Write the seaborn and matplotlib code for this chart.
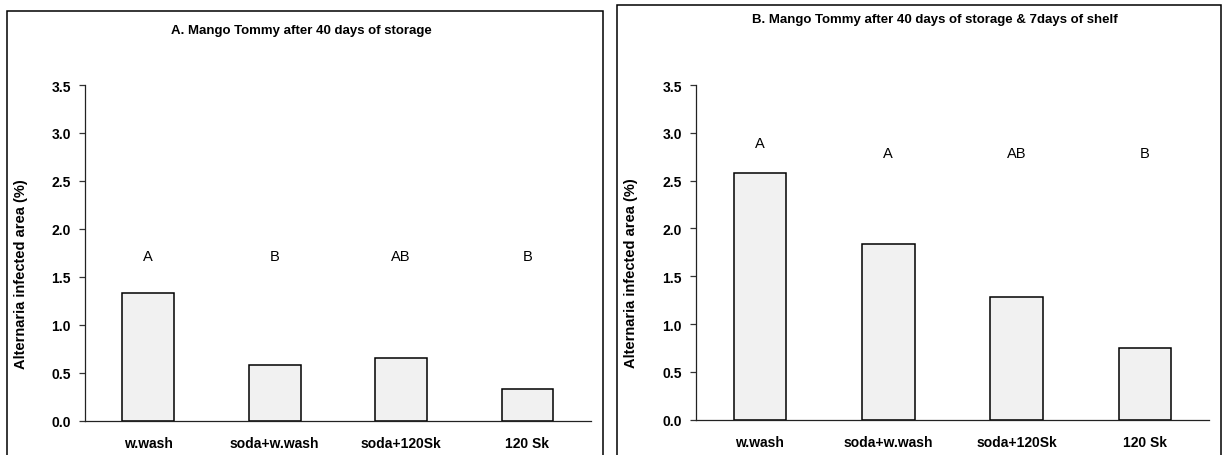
import matplotlib
matplotlib.use("Agg")
import matplotlib.pyplot as plt
from matplotlib.patches import Rectangle
import pandas as pd
import seaborn as sns

# Treatments and Alternaria infected area (%)
treatments = ["w.wash", "soda+w.wash", "soda+120Sk", "120 Sk"]
storage_40d = [1.33, 0.58, 0.65, 0.33]
storage_40d_shelf_7d = [2.58, 1.84, 1.28, 0.75]

# Significance groups and the height at which they are written
letters_a = ["A", "B", "AB", "B"]
letter_y_a = [1.72, 1.72, 1.72, 1.72]
letters_b = ["A", "A", "AB", "B"]
letter_y_b = [2.89, 2.79, 2.79, 2.79]

titles = ["A. Mango Tommy after 40 days of storage",
          "B. Mango Tommy after 40 days of storage & 7days of shelf"]
ylabel = "Alternaria infected area (%)"
yticks = [0.0, 0.5, 1.0, 1.5, 2.0, 2.5, 3.0, 3.5]

sns.set_theme(style="white")
plt.rcParams["font.family"] = ["Liberation Sans", "DejaVu Sans"]
plt.rcParams["text.color"] = "black"
plt.rcParams["axes.labelcolor"] = "black"
plt.rcParams["xtick.color"] = "black"
plt.rcParams["ytick.color"] = "black"

W, H = 1227, 456
fig = plt.figure(figsize=(W / 100, H / 100), dpi=100)
fig.patch.set_facecolor("white")

# panel frames (left, top, right) in pixels; frames run off the bottom edge
frames = [(7, 12, 603), (617, 6, 1221)]
for (l, t, r) in frames:
    fig.patches.append(Rectangle((l / W, -0.05), (r - l) / W, 1 - t / H + 0.05,
                                 transform=fig.transFigure, fill=False,
                                 edgecolor="black", linewidth=1.1, zorder=0))

# axes boxes (left px, right px, y of 0.0 px, y of 3.5 px)
boxes = [(85, 590.7, 421.7, 86), (695.7, 1209.3, 420.7, 86)]
title_pos = [(301, 31), (935, 20.5)]
series = [storage_40d, storage_40d_shelf_7d]
letters = [(letters_a, letter_y_a), (letters_b, letter_y_b)]

for i in range(2):
    l, r, y0, y35 = boxes[i]
    ax = fig.add_axes([l / W, 1 - y0 / H, (r - l) / W, (y0 - y35) / H])
    df = pd.DataFrame({"treatment": treatments, "value": series[i]})
    sns.barplot(data=df, x="treatment", y="value", ax=ax, width=0.41,
                color="#f1f1f1", edgecolor="black", linewidth=1.1,
                saturation=1)
    ax.set_xlim(-0.5, 3.5)
    ax.set_ylim(0, 3.5)
    ax.set_yticks(yticks)
    ax.set_yticklabels([f"{v:.1f}" for v in yticks], fontweight="bold",
                       fontsize=10)
    ax.set_xticks(range(len(treatments)))
    ax.set_xticklabels(treatments, fontweight="bold", fontsize=10)
    ax.set_xticks([k - 0.5 for k in range(len(treatments) + 1)], minor=True)
    ax.tick_params(axis="x", which="major", length=0, pad=11)
    ax.tick_params(axis="x", which="minor", length=4, width=0.9,
                   direction="out", color="#333333")
    ax.tick_params(axis="y", which="major", length=4, width=0.9,
                   direction="out", pad=6, color="#333333", left=True)
    ax.set_xlabel("")
    ax.set_ylabel(ylabel, fontweight="bold", fontsize=10.5)
    ax.yaxis.set_label_coords(-0.113, 0.44)
    for side in ["top", "right"]:
        ax.spines[side].set_visible(False)
    for side in ["left", "bottom"]:
        ax.spines[side].set_color("#222222")
        ax.spines[side].set_linewidth(0.9)
    ax.set_facecolor("none")
    labs, ys = letters[i]
    for k, (lab, yv) in enumerate(zip(labs, ys)):
        ax.text(k, yv, lab, ha="center", va="center", fontsize=10.5)
    tx, ty = title_pos[i]
    fig.text(tx / W, 1 - ty / H, titles[i], ha="center", va="center",
             fontweight="bold", fontsize=9.5)

fig.savefig("out.png", dpi=100, facecolor="white")
